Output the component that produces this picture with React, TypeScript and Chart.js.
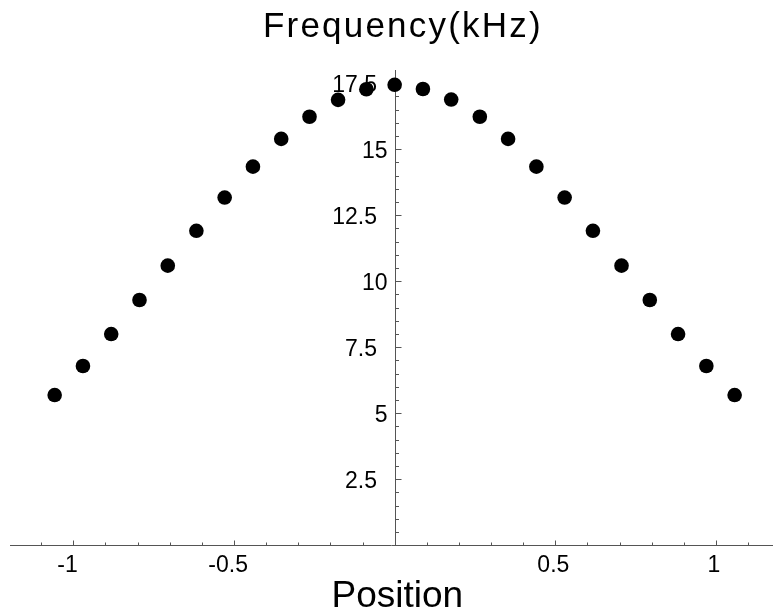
import React, { useEffect, useRef } from "react";
import { Chart, registerables } from "chart.js";

Chart.register(...registerables);

// ---- data ----
const positions = [
  -1.058, -0.970, -0.882, -0.794, -0.706, -0.617, -0.529, -0.441, -0.353, -0.265, -0.176, -0.088,
  0,
  0.088, 0.176, 0.265, 0.353, 0.441, 0.529, 0.617, 0.706, 0.794, 0.882, 0.970, 1.058,
];
const frequencies = [
  5.69, 6.79, 8.0, 9.29, 10.59, 11.91, 13.17, 14.34, 15.39, 16.23, 16.87, 17.27,
  17.44,
  17.28, 16.88, 16.23, 15.39, 14.34, 13.17, 11.91, 10.59, 9.29, 8.0, 6.79, 5.69,
];
const xTickValues = [-1, -0.5, 0.5, 1];
const xTickLabels = ["-1", "-0.5", "0.5", "1"];
const yTickValues = [2.5, 5, 7.5, 10, 12.5, 15, 17.5];
const yTickLabels = ["2.5", "5", "7.5", "10", "12.5", "15", "17.5"];
const xTitle = "Position";
const yTitle = "Frequency(kHz)";

const FONT = '"Liberation Sans", Arial, sans-serif';
const AXIS_COLOR = "#555";

const axesPlugin = {
  id: "originAxes",
  beforeDatasetsDraw(chart: any) {
    const { ctx, chartArea, scales } = chart;
    const xs = scales.x;
    const ys = scales.y;
    const x0 = Math.round(xs.getPixelForValue(0)) + 0.5;
    const y0 = Math.round(ys.getPixelForValue(0)) + 0.5;
    ctx.save();
    ctx.strokeStyle = AXIS_COLOR;
    ctx.lineWidth = 1;
    ctx.beginPath();
    ctx.moveTo(chartArea.left, y0);
    ctx.lineTo(chartArea.right, y0);
    ctx.moveTo(x0, chartArea.top);
    ctx.lineTo(x0, y0);
    // x ticks every 0.1
    for (let k = -11; k <= 11; k++) {
      if (k === 0) continue;
      const px = Math.round(xs.getPixelForValue(k / 10)) + 0.5;
      if (px < chartArea.left || px > chartArea.right) continue;
      const len = k % 5 === 0 ? 5 : 3;
      ctx.moveTo(px, y0);
      ctx.lineTo(px, y0 - len);
    }
    // y ticks every 0.5
    for (let k = 1; k <= 35; k++) {
      const py = Math.round(ys.getPixelForValue(k * 0.5)) + 0.5;
      const len = k % 5 === 0 ? 6 : 3.5;
      ctx.moveTo(x0, py);
      ctx.lineTo(x0 + len, py);
    }
    ctx.stroke();

    // tick labels
    ctx.fillStyle = "#000";
    ctx.font = `23px ${FONT}`;
    ctx.textBaseline = "alphabetic";
    xTickValues.forEach((v, i) => {
      const label = xTickLabels[i];
      const px = xs.getPixelForValue(v);
      const unsigned = label.replace("-", "");
      const w = ctx.measureText(unsigned).width;
      ctx.textAlign = "right";
      ctx.fillText(label, px - 2 + w / 2, y0 + 26.5);
    });
    yTickValues.forEach((v, i) => {
      const label = yTickLabels[i];
      const py = ys.getPixelForValue(v);
      ctx.textAlign = "right";
      const off = label.includes(".") ? 18.5 : 8;
      ctx.fillText(label, x0 - off, py + 8.3);
    });

    // axis titles
    ctx.textAlign = "left";
    ctx.font = `35px ${FONT}`;
    (ctx as any).letterSpacing = "2.2px";
    ctx.fillText(yTitle, 263, 36.7);
    (ctx as any).letterSpacing = "0px";
    ctx.font = `37px ${FONT}`;
    ctx.fillText(xTitle, 331.5, 606.7);
    ctx.restore();
  },
};

export default function App() {
  const ref = useRef<HTMLCanvasElement | null>(null);
  useEffect(() => {
    if (!ref.current) return;
    const chart = new Chart(ref.current, {
      type: "scatter",
      data: {
        datasets: [
          {
            data: positions.map((x, i) => ({ x, y: frequencies[i] })),
            backgroundColor: "#000",
            borderColor: "#000",
            pointRadius: 7.3,
            pointHoverRadius: 7.3,
            borderWidth: 0,
          },
        ],
      },
      options: {
        animation: false,
        responsive: false,
        devicePixelRatio: 1,
        layout: { autoPadding: false, padding: { left: 10, right: 0, top: 70, bottom: 68.7 } },
        plugins: { legend: { display: false }, tooltip: { enabled: false }, title: { display: false } },
        scales: {
          x: { type: "linear", min: -1.197, max: 1.1774, display: false },
          y: { type: "linear", min: 0, max: 18, display: false },
        },
      },
      plugins: [axesPlugin],
    });
    return () => chart.destroy();
  }, []);
  return (
    <div style={{ position: "fixed", left: 0, top: 0, width: 773, height: 614, background: "#fff" }}>
      <canvas ref={ref} width={773} height={614} style={{ display: "block" }} />
    </div>
  );
}
